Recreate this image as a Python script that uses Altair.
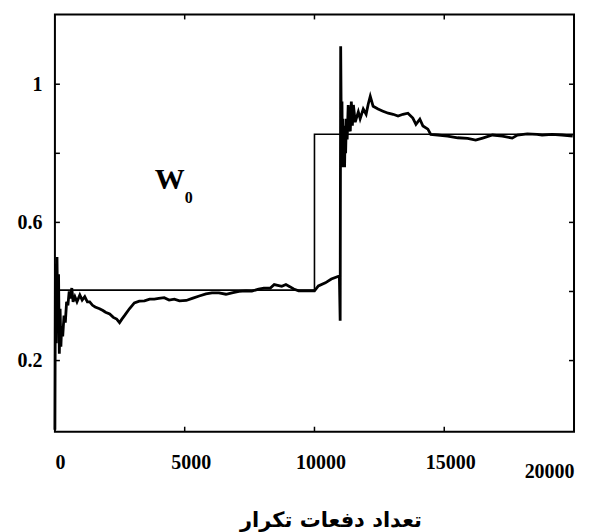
import altair as alt
import pandas as pd

# ---- data ----
iter_x = [0, 20, 50, 80, 110, 140, 170, 200, 230, 260, 300, 350, 400, 450, 500, 550, 600, 650,
          700, 770, 850, 960, 1050, 1150, 1250, 1340, 1450, 1550, 1720, 1850, 1950, 2110, 2250,
          2380, 2490, 2580, 2680, 2870, 3060, 3250, 3450, 3650, 3830, 4000, 4210, 4400, 4600,
          4800, 5060, 5290, 5560, 5820, 6050, 6320, 6590, 6820, 7090, 7360, 7590, 7850, 8050,
          8300, 8450, 8740, 8900, 9050, 9200, 9390, 9890, 10000, 10150, 10420, 10650, 10960,
          10990, 11010, 11040, 11060, 11080, 11100, 11120, 11140, 11160, 11180, 11200, 11230,
          11260, 11300, 11340, 11380, 11420, 11460, 11500, 11570, 11690, 11760, 11880, 11990,
          12070, 12150, 12260, 12450, 12640, 12840, 13030, 13220, 13410, 13600, 13790, 13910,
          14060, 14180, 14370, 14480, 14750, 15130, 15520, 15900, 16210, 16480, 16860, 17240,
          17620, 17820, 18200, 18580, 18770, 19160, 19540, 19950]
w0_estimate = [0.0, 0.48, 0.25, 0.50, 0.30, 0.45, 0.22, 0.35, 0.24, 0.30, 0.27, 0.33, 0.31, 0.37,
               0.36, 0.40, 0.38, 0.41, 0.37, 0.385, 0.37, 0.39, 0.375, 0.385, 0.37, 0.37, 0.36,
               0.355, 0.35, 0.345, 0.34, 0.335, 0.325, 0.32, 0.31, 0.32, 0.33, 0.35, 0.367,
               0.372, 0.373, 0.378, 0.378, 0.38, 0.382, 0.375, 0.378, 0.373, 0.374, 0.38, 0.387,
               0.393, 0.396, 0.396, 0.392, 0.396, 0.40, 0.402, 0.401, 0.407, 0.41, 0.41, 0.42,
               0.415, 0.42, 0.414, 0.407, 0.402, 0.402, 0.402, 0.416, 0.425, 0.436, 0.445,
               0.315, 1.11, 0.80, 0.95, 0.76, 0.90, 0.77, 0.88, 0.76, 0.86, 0.80, 0.90, 0.84,
               0.94, 0.87, 0.864, 0.95, 0.88, 0.94, 0.89, 0.92, 0.90, 0.928, 0.913, 0.942,
               0.965, 0.936, 0.928, 0.922, 0.916, 0.913, 0.908, 0.913, 0.916, 0.902, 0.884,
               0.899, 0.879, 0.87, 0.855, 0.853, 0.85, 0.845, 0.843, 0.838, 0.844, 0.853, 0.85,
               0.844, 0.853, 0.856, 0.855, 0.853, 0.855, 0.853, 0.85]
target_x = [0, 10000, 20000]
target_w0 = [0.404, 0.855, 0.855]

x_tick_values = [0, 5000, 10000, 15000, 20000]
y_tick_values = [0.2, 0.4, 0.6, 0.8, 1.0]
y_label_values = [0.2, 0.6, 1.0]
x_title = "تعداد دفعات تکرار"
label_main = "W"
label_sub = "0"

W, H = 520, 418
xs = alt.Scale(domain=[0, 20000], nice=False, zero=False)
ys = alt.Scale(domain=[-0.006, 1.202], nice=False, zero=False)

est = pd.DataFrame({"n": iter_x, "w": w0_estimate})
tgt = pd.DataFrame({"n": target_x, "w": target_w0})
yt = pd.DataFrame({"w": y_tick_values})
xt = pd.DataFrame({"n": x_tick_values[1:-1]})

serif = "Liberation Serif"

xaxis = alt.Axis(
    values=x_tick_values, format="d", ticks=False, domain=False, grid=False,
    labelFont=serif, labelFontWeight="bold", labelFontSize=20, labelColor="black",
    labelFlush=True,
    labelOffset={"condition": {"test": "datum.value > 0 && datum.value < 20000", "value": 6}, "value": 0},
    labelPadding={"condition": {"test": "datum.value == 20000", "value": 30}, "value": 21},
    title=x_title, titleFont="DejaVu Sans", titleFontSize=21, titleFontWeight="bold",
    titleColor="black", titleX=276, titleY=95, titleAlign="center",
    titleBaseline="alphabetic",
)
yaxis = alt.Axis(
    values=y_label_values, format="~g", ticks=False, domain=False, grid=False,
    labelFont=serif, labelFontWeight="bold", labelFontSize=20, labelColor="black",
    labelPadding=13, title=None,
)

X = alt.X("n:Q", scale=xs, axis=xaxis)
Y = alt.Y("w:Q", scale=ys, axis=yaxis)

est_line = alt.Chart(est).mark_line(color="black", strokeWidth=2.8).encode(x=X, y=Y)
tgt_line = alt.Chart(tgt).mark_line(color="black", strokeWidth=1.6, interpolate="step-after").encode(x=X, y=Y)

tick_len = 5
left_ticks = alt.Chart(yt).mark_rule(color="black", strokeWidth=1.5).encode(
    y=Y, x=alt.value(0), x2=alt.value(tick_len))
right_ticks = alt.Chart(yt).mark_rule(color="black", strokeWidth=1.5).encode(
    y=Y, x=alt.value(W), x2=alt.value(W - tick_len))
bottom_ticks = alt.Chart(xt).mark_rule(color="black", strokeWidth=1.5).encode(
    x=X, y=alt.value(H), y2=alt.value(H - tick_len))
top_ticks = alt.Chart(xt).mark_rule(color="black", strokeWidth=1.5).encode(
    x=X, y=alt.value(0), y2=alt.value(tick_len))

ann_w = alt.Chart(pd.DataFrame({"t": [label_main]})).mark_text(
    font=serif, fontWeight="bold", fontSize=30, align="left", baseline="alphabetic", color="black"
).encode(text="t:N", x=alt.value(100), y=alt.value(175))
ann_0 = alt.Chart(pd.DataFrame({"t": [label_sub]})).mark_text(
    font=serif, fontWeight="bold", fontSize=16, align="left", baseline="alphabetic", color="black"
).encode(text="t:N", x=alt.value(130), y=alt.value(189))

chart = alt.layer(
    tgt_line, est_line, left_ticks, right_ticks, bottom_ticks, top_ticks, ann_w, ann_0
).properties(
    width=W, height=H, background="white",
    padding={"left": 9, "top": 5, "right": 5, "bottom": 5},
).configure_view(stroke="black", strokeWidth=2)

chart.save("out.html", embed_options={"renderer": "svg", "actions": False})
